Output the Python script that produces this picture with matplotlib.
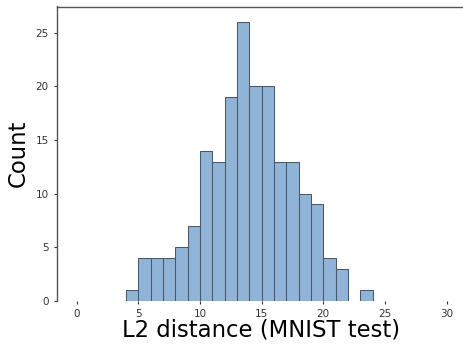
import numpy as np
import matplotlib
matplotlib.use('Agg')
import matplotlib.pyplot as plt

# histogram of L2 distances, bin edges 4..24 step 1
bin_edges = list(range(4, 25))
counts = [1, 4, 4, 4, 5, 7, 14, 13, 19, 26, 20, 20, 13, 13, 10, 9, 4, 3, 0, 1]
x_ticks = [0, 5, 10, 15, 20, 25, 30]
y_ticks = [0, 5, 10, 15, 20, 25]

fig = plt.figure(figsize=(4.64, 3.44), dpi=100)
fig.patch.set_facecolor('white')
W, H = 464, 344
ax = fig.add_axes([57 / W, (H - 301) / H, (465 - 57) / W, (301 - 6.5) / H])
ax.set_facecolor('white')

ax.hist(bin_edges[:-1], bins=bin_edges, weights=counts,
        color='#8fb4d8', edgecolor='#4a5866', linewidth=0.75)

ax.set_xlim(-1.6, 31.5)
ax.set_ylim(0, 27.45)
ax.set_xticks(x_ticks)
ax.set_yticks(y_ticks)
ax.tick_params(axis='both', labelsize=7.5, colors='#333333', length=2.5, width=0.8)
ax.tick_params(axis='x', pad=3)

for side in ['bottom', 'right']:
    ax.spines[side].set_visible(False)
for side in ['top', 'left']:
    ax.spines[side].set_color('#555555')
    ax.spines[side].set_linewidth(1.0)

ax.set_xlabel('L2 distance (MNIST test)', fontsize=16.4, labelpad=0)
ax.set_ylabel('Count', fontsize=16.4, labelpad=4)

fig.savefig('out.png', dpi=100)
